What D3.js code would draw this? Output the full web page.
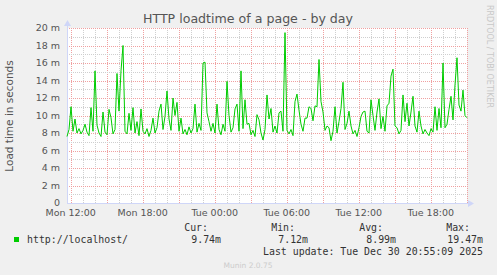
<!DOCTYPE html>
<meta charset="utf-8">
<style>
    body { margin: 0; background: #f0f0f0; }
    svg { display: block; }
</style>
<svg width="497" height="275"></svg>
<script src="https://cdn.jsdelivr.net/npm/d3@7"></script>
<script>

    // load time samples (ms), one every 10 minutes from Mon 11:41:30
    var loadtime = [
        7.6, 8.4, 11.0, 8.2, 9.6, 8.0, 8.5, 7.9, 8.3, 9.0,
        8.1, 7.7, 10.9, 8.2, 15.1, 8.9, 8.0, 7.6, 10.4, 8.1,
        7.8, 10.7, 9.75, 7.9, 8.4, 14.8, 10.5, 15.1, 18.0, 8.2,
        7.9, 10.25, 8.3, 10.9, 8.0, 9.3, 7.7, 10.75, 8.2, 7.9,
        8.5, 7.6, 8.3, 9.7, 8.0, 8.6, 10.5, 11.3, 8.4, 9.9,
        12.8, 9.6, 8.3, 12.0, 10.0, 11.5, 8.2, 9.7, 7.9, 8.4,
        7.8, 8.7, 8.0, 8.5, 11.3, 8.1, 9.1, 8.3, 16.0, 16.1,
        10.3, 9.3, 8.2, 9.1, 8.0, 11.3, 8.4, 7.8, 9.0, 8.2,
        13.9, 10.0, 8.1, 8.6, 10.75, 11.3, 8.2, 15.1, 8.5, 11.8,
        9.0, 9.1, 7.8, 8.3, 7.6, 10.1, 9.5, 8.0, 7.2, 8.4,
        12.35, 9.6, 10.8, 8.1, 8.8, 8.0, 10.3, 10.5, 8.2, 19.47,
        8.3, 7.9, 8.4, 7.7, 11.6, 12.45, 10.6, 9.0, 8.2, 9.7,
        9.7, 11.0, 10.8, 9.4, 11.1, 11.0, 16.4, 11.6, 10.4, 8.3,
        8.8, 8.6, 7.12, 8.2, 11.0, 8.0, 9.3, 10.8, 13.8, 8.4,
        9.1, 10.5, 8.8, 7.9, 8.3, 7.6, 8.6, 9.9, 10.4, 10.5,
        8.2, 8.0, 11.8, 10.0, 8.3, 10.4, 11.9, 8.5, 9.9, 8.2,
        11.1, 11.4, 14.5, 15.3, 8.8, 8.6, 7.9, 8.3, 12.35, 9.3,
        11.4, 8.8, 10.4, 12.2, 8.8, 8.1, 10.5, 8.8, 7.9, 8.4,
        8.0, 7.7, 8.5, 8.1, 11.0, 8.3, 10.8, 8.6, 16.0, 8.6,
        9.0, 10.7, 12.2, 9.5, 13.5, 16.6, 11.2, 10.5, 12.9, 10.0,
        9.74
    ];
    var startTime = Date.UTC(2025, 11, 29, 11, 41, 30);
    var stepMinutes = 10;

    var yTicks = [0, 2, 4, 6, 8, 10, 12, 14, 16, 18, 20];
    var xTickLabels = ["Mon 12:00", "Mon 18:00", "Tue 00:00", "Tue 06:00", "Tue 12:00", "Tue 18:00"];
    var xTickTimes = [
        Date.UTC(2025, 11, 29, 12), Date.UTC(2025, 11, 29, 18), Date.UTC(2025, 11, 30, 0),
        Date.UTC(2025, 11, 30, 6), Date.UTC(2025, 11, 30, 12), Date.UTC(2025, 11, 30, 18)
    ];

    var legendHeaders = ["Cur:", "Min:", "Avg:", "Max:"];
    var legendValues = ["9.74m", "7.12m", "8.99m", "19.47m"];

    var svg = d3.select("svg"),
        pLeft = 67, pRight = 467, pTop = 28, pBottom = 203;

    var data = loadtime.map(function (v, i) {
        return { t: new Date(startTime + i * stepMinutes * 60000), v: v };
    });

    var x = d3.scaleUtc()
        .domain([data[0].t, data[data.length - 1].t])
        .range([pLeft, pRight]);

    var y = d3.scaleLinear()
        .domain([0, 20])
        .range([pBottom, pTop]);

    svg.append("rect")
        .attr("x", pLeft).attr("y", pTop)
        .attr("width", pRight - pLeft).attr("height", pBottom - pTop)
        .attr("fill", "#fff");

    // grid: hours minor, 3 hours major; 1m minor, 2m major
    var grid = svg.append("g").attr("stroke-dasharray", "1,1").attr("fill", "none");
    var hours = d3.utcHour.range(x.domain()[0], x.domain()[1]);
    grid.selectAll(".vx")
        .data(hours)
        .enter().append("line")
        .attr("x1", function (d) { return Math.round(x(d)) + 0.5; })
        .attr("x2", function (d) { return Math.round(x(d)) + 0.5; })
        .attr("y1", pTop).attr("y2", pBottom)
        .attr("stroke", function (d) { return d.getUTCHours() % 3 == 0 ? "#f0a0a0" : "#cfcfcf"; });

    grid.selectAll(".hy")
        .data(d3.range(1, 21))
        .enter().append("line")
        .attr("x1", pLeft).attr("x2", pRight)
        .attr("y1", function (d) { return Math.round(y(d)) + 0.5; })
        .attr("y2", function (d) { return Math.round(y(d)) + 0.5; })
        .attr("stroke", function (d) { return d % 2 == 0 ? "#f0a0a0" : "#cfcfcf"; });

    // axes with arrows
    var axisColor = "#cfd6f8";
    svg.append("line")
        .attr("x1", pLeft + 0.5).attr("x2", pLeft + 0.5)
        .attr("y1", pBottom).attr("y2", pTop - 6)
        .attr("stroke", axisColor);
    svg.append("path")
        .attr("d", "M" + (pLeft - 3) + "," + (pTop - 2) + "L" + (pLeft + 0.5) + "," + (pTop - 8) + "L" + (pLeft + 4) + "," + (pTop - 2) + "Z")
        .attr("fill", axisColor);
    svg.append("line")
        .attr("x1", pLeft).attr("x2", pRight + 5)
        .attr("y1", pBottom + 0.5).attr("y2", pBottom + 0.5)
        .attr("stroke", axisColor);
    svg.append("path")
        .attr("d", "M" + (pRight + 1) + "," + (pBottom - 3) + "L" + (pRight + 7) + "," + (pBottom + 0.5) + "L" + (pRight + 1) + "," + (pBottom + 4) + "Z")
        .attr("fill", axisColor);

    // data line
    svg.append("path")
        .datum(data)
        .attr("fill", "none")
        .attr("stroke", "#00cc00")
        .attr("stroke-width", 1)
        .attr("d", d3.line()
            .x(function (d) { return x(d.t); })
            .y(function (d) { return y(d.v); }));

    var font = "DejaVu Sans";

    // y tick labels
    svg.append("g")
        .selectAll("text")
        .data(yTicks)
        .enter().append("text")
        .attr("x", 60)
        .attr("y", function (d) { return y(d); })
        .attr("dy", "0.35em")
        .attr("text-anchor", "end")
        .attr("font-family", font)
        .attr("font-size", 9.5)
        .attr("fill", "#555")
        .text(function (d) { return d == 0 ? "0" : d + " m"; });

    // x tick labels
    svg.append("g")
        .selectAll("text")
        .data(xTickTimes)
        .enter().append("text")
        .attr("x", function (d) { return x(d); })
        .attr("y", 216)
        .attr("text-anchor", "middle")
        .attr("font-family", font)
        .attr("font-size", 9.5)
        .attr("fill", "#555")
        .text(function (d, i) { return xTickLabels[i]; });

    // title
    svg.append("text")
        .attr("x", 248).attr("y", 23)
        .attr("text-anchor", "middle")
        .attr("font-family", font)
        .attr("font-size", 12.6)
        .attr("fill", "#555")
        .text("HTTP loadtime of a page - by day");

    svg.append("text")
        .attr("transform", "translate(13,116)rotate(-90)")
        .attr("text-anchor", "middle")
        .attr("font-family", font)
        .attr("font-size", 10.5)
        .attr("fill", "#555")
        .text("Load time in seconds");

    svg.append("text")
        .attr("transform", "translate(487,5)rotate(90)")
        .attr("font-family", font)
        .attr("font-size", 8)
        .attr("fill", "#c8c8c8")
        .text("RRDTOOL / TOBI OETIKER");

    // legend
    var mono = "DejaVu Sans Mono";
    svg.append("rect")
        .attr("x", 14).attr("y", 237)
        .attr("width", 5).attr("height", 5)
        .attr("fill", "#00cc00");
    svg.append("text")
        .attr("x", 27).attr("y", 243)
        .attr("font-family", mono).attr("font-size", 9.9).attr("fill", "#333")
        .text("http://localhost/");

    var colRight = [221, 308, 396, 483];
    svg.append("g")
        .selectAll("text")
        .data(legendHeaders)
        .enter().append("text")
        .attr("x", function (d, i) { return colRight[i] - 13; })
        .attr("y", 231)
        .attr("text-anchor", "end")
        .attr("font-family", mono).attr("font-size", 9.9).attr("fill", "#333")
        .text(function (d) { return d; });
    svg.append("g")
        .selectAll("text")
        .data(legendValues)
        .enter().append("text")
        .attr("x", function (d, i) { return colRight[i]; })
        .attr("y", 243)
        .attr("text-anchor", "end")
        .attr("font-family", mono).attr("font-size", 9.9).attr("fill", "#333")
        .text(function (d) { return d; });

    svg.append("text")
        .attr("x", 483).attr("y", 255)
        .attr("text-anchor", "end")
        .attr("font-family", mono).attr("font-size", 9.9).attr("fill", "#333")
        .text("Last update: Tue Dec 30 20:55:09 2025");

    svg.append("text")
        .attr("x", 248).attr("y", 268)
        .attr("text-anchor", "middle")
        .attr("font-family", font).attr("font-size", 7.5)
        .attr("fill", "#ccc")
        .text("Munin 2.0.75");
</script>
